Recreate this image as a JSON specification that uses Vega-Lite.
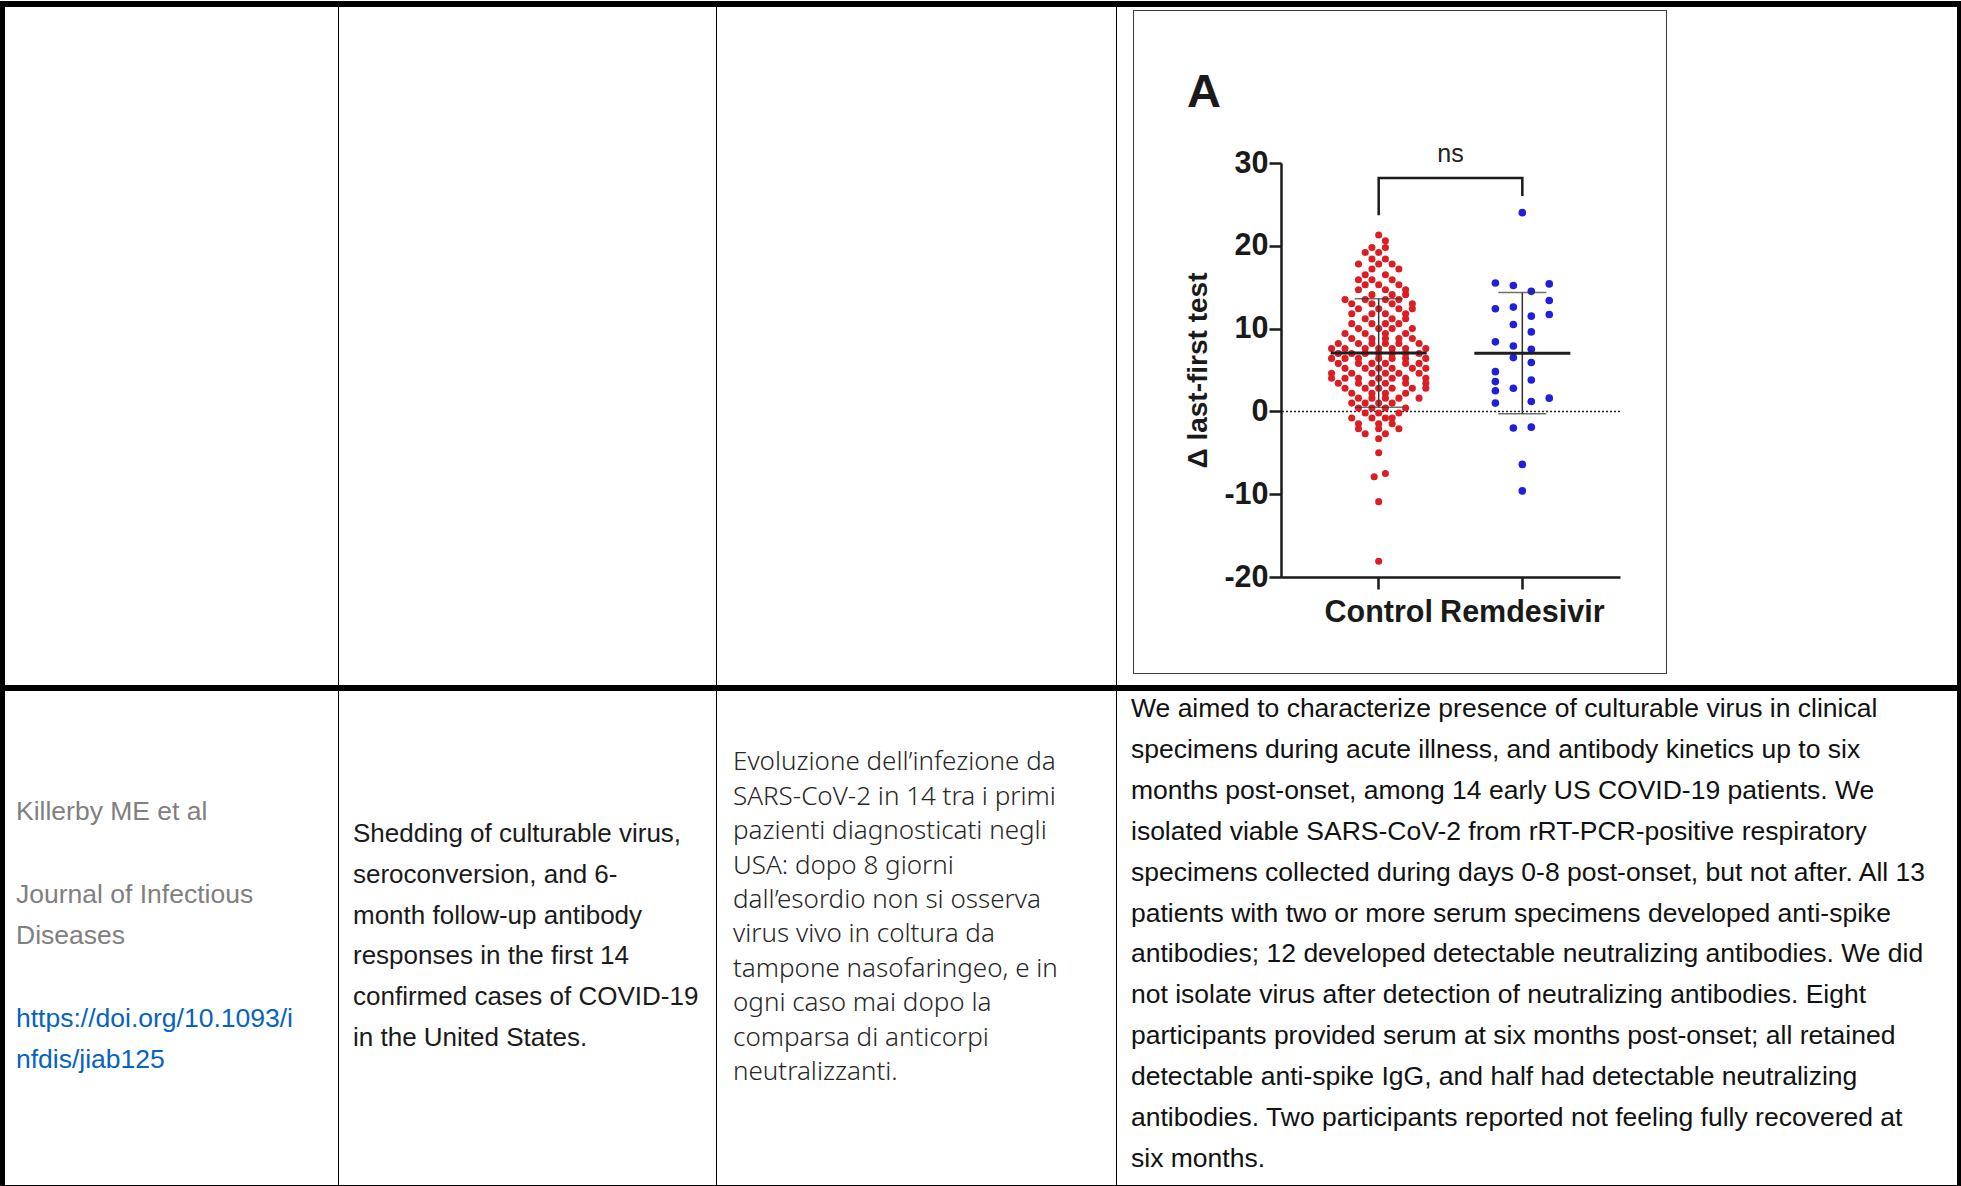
{
"$schema": "https://vega.github.io/schema/vega-lite/v6.json",
"background": "white",
"padding": 0,
"spacing": 0,
"config": {"view": {"stroke": null}, "concat": {"spacing": 0}},
"datasets": {
"none": [],
"pts": [
{"group":"Control","value":21.3,"lane":0},{"group":"Control","value":20.6,"lane":1.5},{"group":"Control","value":19.8,"lane":-1.5},{"group":"Control","value":19.8,"lane":1.5},{"group":"Control","value":19.2,"lane":-3},{"group":"Control","value":19.2,"lane":0},{"group":"Control","value":18.4,"lane":-1.5},{"group":"Control","value":18.4,"lane":1.5},{"group":"Control","value":17.8,"lane":-4.5},{"group":"Control","value":17.8,"lane":0},{"group":"Control","value":17.8,"lane":3},{"group":"Control","value":17.2,"lane":-1.5},{"group":"Control","value":17.2,"lane":4.5},{"group":"Control","value":16.5,"lane":-3},{"group":"Control","value":16.5,"lane":1.5},{"group":"Control","value":15.9,"lane":-4.5},{"group":"Control","value":15.9,"lane":-1.5},{"group":"Control","value":15.9,"lane":3},{"group":"Control","value":15.3,"lane":-3},{"group":"Control","value":15.3,"lane":0},{"group":"Control","value":15.3,"lane":4.5},{"group":"Control","value":14.7,"lane":-4.5},{"group":"Control","value":14.7,"lane":1.5},{"group":"Control","value":14.7,"lane":6},{"group":"Control","value":14.1,"lane":-1.5},{"group":"Control","value":14.1,"lane":3},{"group":"Control","value":14.1,"lane":6},{"group":"Control","value":13.5,"lane":-7.5},{"group":"Control","value":13.5,"lane":-3},{"group":"Control","value":13.5,"lane":1.5},{"group":"Control","value":13.5,"lane":4.5},{"group":"Control","value":13,"lane":-6},{"group":"Control","value":13,"lane":-1.5},{"group":"Control","value":13,"lane":3},{"group":"Control","value":13,"lane":7.5},{"group":"Control","value":12.4,"lane":-4.5},{"group":"Control","value":12.4,"lane":0},{"group":"Control","value":12.4,"lane":4.5},{"group":"Control","value":12.4,"lane":7.5},{"group":"Control","value":11.8,"lane":-6},{"group":"Control","value":11.8,"lane":-1.5},{"group":"Control","value":11.8,"lane":1.5},{"group":"Control","value":11.8,"lane":6},{"group":"Control","value":11.2,"lane":-3},{"group":"Control","value":11.2,"lane":3},{"group":"Control","value":11.2,"lane":6},{"group":"Control","value":10.6,"lane":-6},{"group":"Control","value":10.6,"lane":-1.5},{"group":"Control","value":10.6,"lane":1.5},{"group":"Control","value":10.6,"lane":4.5},{"group":"Control","value":10,"lane":-4.5},{"group":"Control","value":10,"lane":0},{"group":"Control","value":10,"lane":3},{"group":"Control","value":10,"lane":7.5},{"group":"Control","value":9.4,"lane":-7.5},{"group":"Control","value":9.4,"lane":-3},{"group":"Control","value":9.4,"lane":1.5},{"group":"Control","value":9.4,"lane":6},{"group":"Control","value":8.8,"lane":-6},{"group":"Control","value":8.8,"lane":-1.5},{"group":"Control","value":8.8,"lane":1.5},{"group":"Control","value":8.8,"lane":4.5},{"group":"Control","value":8.8,"lane":7.5},{"group":"Control","value":8.2,"lane":-9},{"group":"Control","value":8.2,"lane":-4.5},{"group":"Control","value":8.2,"lane":-1.5},{"group":"Control","value":8.2,"lane":1.5},{"group":"Control","value":8.2,"lane":4.5},{"group":"Control","value":8.2,"lane":9},{"group":"Control","value":7.6,"lane":-10.5},{"group":"Control","value":7.6,"lane":-7.5},{"group":"Control","value":7.6,"lane":-3},{"group":"Control","value":7.6,"lane":0},{"group":"Control","value":7.6,"lane":3},{"group":"Control","value":7.6,"lane":6},{"group":"Control","value":7.6,"lane":10.5},{"group":"Control","value":7,"lane":-9},{"group":"Control","value":7,"lane":-6},{"group":"Control","value":7,"lane":-3},{"group":"Control","value":7,"lane":0},{"group":"Control","value":7,"lane":3},{"group":"Control","value":7,"lane":6},{"group":"Control","value":7,"lane":9},{"group":"Control","value":6.4,"lane":-10.5},{"group":"Control","value":6.4,"lane":-7.5},{"group":"Control","value":6.4,"lane":-4.5},{"group":"Control","value":6.4,"lane":0},{"group":"Control","value":6.4,"lane":3},{"group":"Control","value":6.4,"lane":6},{"group":"Control","value":6.4,"lane":10.5},{"group":"Control","value":5.8,"lane":-9},{"group":"Control","value":5.8,"lane":-4.5},{"group":"Control","value":5.8,"lane":-1.5},{"group":"Control","value":5.8,"lane":1.5},{"group":"Control","value":5.8,"lane":6},{"group":"Control","value":5.8,"lane":9},{"group":"Control","value":5.2,"lane":-7.5},{"group":"Control","value":5.2,"lane":-3},{"group":"Control","value":5.2,"lane":0},{"group":"Control","value":5.2,"lane":3},{"group":"Control","value":5.2,"lane":7.5},{"group":"Control","value":5.2,"lane":10.5},{"group":"Control","value":4.6,"lane":-10.5},{"group":"Control","value":4.6,"lane":-6},{"group":"Control","value":4.6,"lane":-1.5},{"group":"Control","value":4.6,"lane":1.5},{"group":"Control","value":4.6,"lane":4.5},{"group":"Control","value":4.6,"lane":9},{"group":"Control","value":4,"lane":-10.5},{"group":"Control","value":4,"lane":-7.5},{"group":"Control","value":4,"lane":-4.5},{"group":"Control","value":4,"lane":0},{"group":"Control","value":4,"lane":3},{"group":"Control","value":4,"lane":6},{"group":"Control","value":4,"lane":10.5},{"group":"Control","value":3.4,"lane":-9},{"group":"Control","value":3.4,"lane":-4.5},{"group":"Control","value":3.4,"lane":-1.5},{"group":"Control","value":3.4,"lane":1.5},{"group":"Control","value":3.4,"lane":6},{"group":"Control","value":3.4,"lane":10.5},{"group":"Control","value":2.8,"lane":-7.5},{"group":"Control","value":2.8,"lane":-3},{"group":"Control","value":2.8,"lane":0},{"group":"Control","value":2.8,"lane":3},{"group":"Control","value":2.8,"lane":7.5},{"group":"Control","value":2.8,"lane":10.5},{"group":"Control","value":2.2,"lane":-6},{"group":"Control","value":2.2,"lane":-1.5},{"group":"Control","value":2.2,"lane":1.5},{"group":"Control","value":2.2,"lane":6},{"group":"Control","value":1.6,"lane":-4.5},{"group":"Control","value":1.6,"lane":-1.5},{"group":"Control","value":1.6,"lane":1.5},{"group":"Control","value":1.6,"lane":4.5},{"group":"Control","value":1.6,"lane":9},{"group":"Control","value":1,"lane":-6},{"group":"Control","value":1,"lane":-3},{"group":"Control","value":1,"lane":0},{"group":"Control","value":1,"lane":3},{"group":"Control","value":0.4,"lane":-4.5},{"group":"Control","value":0.4,"lane":-1.5},{"group":"Control","value":0.4,"lane":1.5},{"group":"Control","value":0.4,"lane":6},{"group":"Control","value":-0.2,"lane":-3},{"group":"Control","value":-0.2,"lane":0},{"group":"Control","value":-0.2,"lane":4.5},{"group":"Control","value":-0.8,"lane":-6},{"group":"Control","value":-0.8,"lane":-1.5},{"group":"Control","value":-0.8,"lane":1.5},{"group":"Control","value":-0.8,"lane":3},{"group":"Control","value":-1.5,"lane":-4.5},{"group":"Control","value":-1.5,"lane":0},{"group":"Control","value":-1.5,"lane":3},{"group":"Control","value":-2.1,"lane":-4.5},{"group":"Control","value":-2.1,"lane":0},{"group":"Control","value":-2.1,"lane":4.5},{"group":"Control","value":-2.7,"lane":-3},{"group":"Control","value":-2.7,"lane":1.5},{"group":"Control","value":-3.3,"lane":0},{"group":"Control","value":-5,"lane":0},{"group":"Control","value":-7.5,"lane":1.5},{"group":"Control","value":-7.9,"lane":-1},{"group":"Control","value":-10.9,"lane":0},{"group":"Control","value":-18.1,"lane":0},
{"group":"Remdesivir","value":24,"lane":0},{"group":"Remdesivir","value":15.5,"lane":-6},{"group":"Remdesivir","value":15.2,"lane":-2},{"group":"Remdesivir","value":14.5,"lane":2},{"group":"Remdesivir","value":15.4,"lane":6},{"group":"Remdesivir","value":13.4,"lane":6},{"group":"Remdesivir","value":12.4,"lane":-6},{"group":"Remdesivir","value":12.6,"lane":-2},{"group":"Remdesivir","value":11.5,"lane":2},{"group":"Remdesivir","value":11.7,"lane":6},{"group":"Remdesivir","value":10.5,"lane":-2},{"group":"Remdesivir","value":9.6,"lane":2},{"group":"Remdesivir","value":8.4,"lane":-6},{"group":"Remdesivir","value":7.9,"lane":-2},{"group":"Remdesivir","value":7.5,"lane":2},{"group":"Remdesivir","value":6.5,"lane":-2},{"group":"Remdesivir","value":5.9,"lane":2},{"group":"Remdesivir","value":4.8,"lane":-6},{"group":"Remdesivir","value":3.6,"lane":-6},{"group":"Remdesivir","value":2.5,"lane":-6},{"group":"Remdesivir","value":1,"lane":-6},{"group":"Remdesivir","value":2.8,"lane":-2},{"group":"Remdesivir","value":3.8,"lane":2},{"group":"Remdesivir","value":1.2,"lane":2},{"group":"Remdesivir","value":1.6,"lane":6},{"group":"Remdesivir","value":-2,"lane":-2},{"group":"Remdesivir","value":-1.9,"lane":2},{"group":"Remdesivir","value":-6.4,"lane":0},{"group":"Remdesivir","value":-9.6,"lane":0}
],
"bracket": [
{"group":"Control","value":23.7,"step":1},{"group":"Control","value":28.2,"step":2},{"group":"Remdesivir","value":28.2,"step":3},{"group":"Remdesivir","value":26.0,"step":4}
],
"ns": [{"group":"Control","value":31.1,"label":"ns"}],
"cells": [
{"cell":"c1","line":1,"text":"Killerby ME et al","kind":"plain"},
{"cell":"c1","line":3,"text":"Journal of Infectious","kind":"plain"},
{"cell":"c1","line":4,"text":"Diseases","kind":"plain"},
{"cell":"c1","line":6,"text":"https://doi.org/10.1093/i","kind":"link"},
{"cell":"c1","line":7,"text":"nfdis/jiab125","kind":"link"},
{"cell":"c2","line":1,"text":"Shedding of culturable virus,","kind":"plain"},
{"cell":"c2","line":2,"text":"seroconversion, and 6-","kind":"plain"},
{"cell":"c2","line":3,"text":"month follow-up antibody","kind":"plain"},
{"cell":"c2","line":4,"text":"responses in the first 14","kind":"plain"},
{"cell":"c2","line":5,"text":"confirmed cases of COVID-19","kind":"plain"},
{"cell":"c2","line":6,"text":"in the United States.","kind":"plain"},
{"cell":"c3","line":1,"text":"Evoluzione dell’infezione da","kind":"plain"},
{"cell":"c3","line":2,"text":"SARS-CoV-2 in 14 tra i primi","kind":"plain"},
{"cell":"c3","line":3,"text":"pazienti diagnosticati negli","kind":"plain"},
{"cell":"c3","line":4,"text":"USA: dopo 8 giorni","kind":"plain"},
{"cell":"c3","line":5,"text":"dall’esordio non si osserva","kind":"plain"},
{"cell":"c3","line":6,"text":"virus vivo in coltura da","kind":"plain"},
{"cell":"c3","line":7,"text":"tampone nasofaringeo, e in","kind":"plain"},
{"cell":"c3","line":8,"text":"ogni caso mai dopo la","kind":"plain"},
{"cell":"c3","line":9,"text":"comparsa di anticorpi","kind":"plain"},
{"cell":"c3","line":10,"text":"neutralizzanti.","kind":"plain"},
{"cell":"c4","line":1,"text":"We aimed to characterize presence of culturable virus in clinical","kind":"plain"},
{"cell":"c4","line":2,"text":"specimens during acute illness, and antibody kinetics up to six","kind":"plain"},
{"cell":"c4","line":3,"text":"months post-onset, among 14 early US COVID-19 patients. We","kind":"plain"},
{"cell":"c4","line":4,"text":"isolated viable SARS-CoV-2 from rRT-PCR-positive respiratory","kind":"plain"},
{"cell":"c4","line":5,"text":"specimens collected during days 0-8 post-onset, but not after. All 13","kind":"plain"},
{"cell":"c4","line":6,"text":"patients with two or more serum specimens developed anti-spike","kind":"plain"},
{"cell":"c4","line":7,"text":"antibodies; 12 developed detectable neutralizing antibodies. We did","kind":"plain"},
{"cell":"c4","line":8,"text":"not isolate virus after detection of neutralizing antibodies. Eight","kind":"plain"},
{"cell":"c4","line":9,"text":"participants provided serum at six months post-onset; all retained","kind":"plain"},
{"cell":"c4","line":10,"text":"detectable anti-spike IgG, and half had detectable neutralizing","kind":"plain"},
{"cell":"c4","line":11,"text":"antibodies. Two participants reported not feeling fully recovered at","kind":"plain"},
{"cell":"c4","line":12,"text":"six months.","kind":"plain"}
]
},
"vconcat": [
{"data":{"name":"none"},"mark":"point","width":1961,"height":1},
{"data":{"name":"none"},"mark":"point","width":1961,"height":6,"view":{"fill":"#000000","stroke":null}},
{"spacing":0,"hconcat":[
 {"data":{"name":"none"},"mark":"point","width":5,"height":678,"view":{"fill":"#000000","stroke":null}},
 {"data":{"name":"none"},"mark":"point","width":333,"height":678},
 {"data":{"name":"none"},"mark":"point","width":1,"height":678,"view":{"fill":"#000000","stroke":null}},
 {"data":{"name":"none"},"mark":"point","width":377,"height":678},
 {"data":{"name":"none"},"mark":"point","width":1,"height":678,"view":{"fill":"#000000","stroke":null}},
 {"data":{"name":"none"},"mark":"point","width":399,"height":678},
 {"data":{"name":"none"},"mark":"point","width":1,"height":678,"view":{"fill":"#000000","stroke":null}},
 {"spacing":0,"hconcat":[
  {"data":{"name":"none"},"mark":"point","width":16,"height":678},
  {"spacing":0,"vconcat":[
   {"data":{"name":"none"},"mark":"point","width":534,"height":3},
   {"data":{"name":"none"},"mark":"point","width":534,"height":1,"view":{"fill":"#3d3d3d","stroke":null}},
   {"spacing":0,"hconcat":[
    {"data":{"name":"none"},"mark":"point","width":1,"height":662,"view":{"fill":"#3d3d3d","stroke":null}},
    {"spacing":0,"vconcat":[
     {"data":{"name":"none"},"mark":"point","width":532,"height":57},
     {"spacing":0,"hconcat":[
      {"data":{"name":"none"},"mark":"point","width":50,"height":1},
      {
       "width":339,"height":414,
       "title":{"text":"A","anchor":"start","fontSize":47,"fontWeight":"bold","font":"Liberation Sans","color":"#1a1a1a","offset":-12,"baseline":"alphabetic","dx":2},
       "layer":[
        {"data":{"values":[{"value":0}]},
         "mark":{"type":"rule","strokeDash":[2,2],"color":"#222222","strokeWidth":1.5},
         "encoding":{"y":{"field":"value","type":"quantitative","title":"Δ last-first test","scale":{"domain":[-20,30],"nice":false,"zero":false},"axis":{"values":[-20,-10,0,10,20,30],"labelExpr":"'' + datum.value","grid":false,"labelFont":"Liberation Sans","labelFontSize":30.5,"labelFontWeight":"bold","labelColor":"#1a1a1a","labelPadding":1,"tickSize":12,"tickWidth":2.5,"tickColor":"#1a1a1a","domainColor":"#1a1a1a","domainWidth":2.5,"titleFont":"Liberation Sans","titleFontSize":28,"titleFontWeight":"bold","titleColor":"#1a1a1a","titlePadding":11}}}},
        {"data":{"name":"pts"},
         "mark":{"type":"circle","opacity":1},
         "encoding":{
          "x":{"field":"group","type":"nominal","title":null,"scale":{"domain":["Control","Remdesivir"],"paddingInner":0,"paddingOuter":0.18},"axis":{"bandPosition":0.5,"labelAngle":0,"labelFont":"Liberation Sans","labelFontSize":30.5,"labelFontWeight":"bold","labelColor":"#1a1a1a","labelPadding":8,"tickSize":12,"tickWidth":2.5,"tickColor":"#1a1a1a","domainColor":"#1a1a1a","domainWidth":2.5,"grid":false}},
          "xOffset":{"field":"lane","type":"quantitative","scale":{"domain":[-16,16]}},
          "y":{"field":"value","type":"quantitative","title":"Δ last-first test","scale":{"domain":[-20,30],"nice":false,"zero":false}},
          "color":{"field":"group","type":"nominal","legend":null,"scale":{"domain":["Control","Remdesivir"],"range":["#dc1e24","#1f1fdc"]}},
          "size":{"field":"group","type":"nominal","legend":null,"scale":{"domain":["Control","Remdesivir"],"range":[50,58]}}
         }},
        {"data":{"name":"pts"},
         "mark":{"type":"errorbar","extent":"stdev","color":"#333333","thickness":1.5,"ticks":{"size":48,"color":"#333333"},"rule":{"color":"#333333","strokeWidth":1.5}},
         "encoding":{
          "x":{"field":"group","type":"nominal","title":null},
          "y":{"field":"value","type":"quantitative","title":"Δ last-first test"}
         }},
        {"data":{"name":"pts"},
         "mark":{"type":"tick","color":"#1e1e1e","size":96,"thickness":3},
         "encoding":{
          "x":{"field":"group","type":"nominal","title":null},
          "y":{"aggregate":"mean","field":"value","type":"quantitative","title":"Δ last-first test"}
         }},
        {"data":{"name":"bracket"},
         "mark":{"type":"line","color":"#1a1a1a","strokeWidth":2.5},
         "encoding":{
          "x":{"field":"group","type":"nominal","title":null,"bandPosition":0.5},
          "y":{"field":"value","type":"quantitative","title":"Δ last-first test"},
          "order":{"field":"step","type":"quantitative"}
         }},
        {"data":{"name":"ns"},
         "mark":{"type":"text","fontSize":25,"font":"Liberation Sans","color":"#222222","baseline":"middle"},
         "encoding":{
          "x":{"field":"group","type":"nominal","title":null,"bandPosition":1},
          "y":{"field":"value","type":"quantitative","title":"Δ last-first test"},
          "text":{"field":"label"}
         }}
       ]
      }
     ]}
    ]},
    {"data":{"name":"none"},"mark":"point","width":1,"height":662,"view":{"fill":"#3d3d3d","stroke":null}}
   ]},
   {"data":{"name":"none"},"mark":"point","width":534,"height":1,"view":{"fill":"#3d3d3d","stroke":null}}
  ]},
  {"data":{"name":"none"},"mark":"point","width":290,"height":678}
 ]},
 {"data":{"name":"none"},"mark":"point","width":4,"height":678,"view":{"fill":"#000000","stroke":null}}
]},
{"data":{"name":"none"},"mark":"point","width":1961,"height":6,"view":{"fill":"#000000","stroke":null}},
{"spacing":0,"bounds":"flush","hconcat":[
 {"data":{"name":"none"},"mark":"point","width":5,"height":494,"view":{"fill":"#000000","stroke":null}},
 {"data":{"name":"cells"},"transform":[{"filter":"datum.cell === 'c1'"}],"width":333,"height":494,
  "encoding":{
   "x":{"field":"cell","type":"nominal","bandPosition":0,"axis":null,"scale":{"type":"band","paddingInner":0,"paddingOuter":0.03537}},
   "y":{"field":"line","type":"quantitative","axis":null,"scale":{"domain":[-1.93,10.031],"reverse":true,"nice":false,"zero":false}},
   "text":{"field":"text"}
  },
  "layer":[
   {"transform":[{"filter":"datum.kind === 'plain'"}],"mark":{"type":"text","align":"left","baseline":"middle","font":"Liberation Sans","fontSize":26.5,"color":"#808080"}},
   {"transform":[{"filter":"datum.kind === 'link'"}],"mark":{"type":"text","align":"left","baseline":"middle","font":"Liberation Sans","fontSize":26.5,"color":"#0563c1"}}
  ]},
 {"data":{"name":"none"},"mark":"point","width":1,"height":494,"view":{"fill":"#000000","stroke":null}},
 {"data":{"name":"cells"},"transform":[{"filter":"datum.cell === 'c2'"}],"width":377,"height":494,
  "mark":{"type":"text","align":"left","baseline":"middle","font":"Liberation Sans","fontSize":26,"color":"#1a1a1a"},
  "encoding":{
   "x":{"field":"cell","type":"nominal","bandPosition":0,"axis":null,"scale":{"type":"band","paddingInner":0,"paddingOuter":0.04011}},
   "y":{"field":"line","type":"quantitative","axis":null,"scale":{"domain":[-2.505,9.603],"reverse":true,"nice":false,"zero":false}},
   "text":{"field":"text"}
  }},
 {"data":{"name":"none"},"mark":"point","width":1,"height":494,"view":{"fill":"#000000","stroke":null}},
 {"data":{"name":"cells"},"transform":[{"filter":"datum.cell === 'c3'"}],"width":399,"height":494,
  "mark":{"type":"text","align":"left","baseline":"middle","font":"Noto Sans","fontWeight":300,"fontSize":26,"color":"#262626"},
  "encoding":{
   "x":{"field":"cell","type":"nominal","bandPosition":0,"axis":null,"scale":{"type":"band","paddingInner":0,"paddingOuter":0.0436}},
   "y":{"field":"line","type":"quantitative","axis":null,"scale":{"domain":[-1.078,13.282],"reverse":true,"nice":false,"zero":false}},
   "text":{"field":"text"}
  }},
 {"data":{"name":"none"},"mark":"point","width":1,"height":494,"view":{"fill":"#000000","stroke":null}},
 {"data":{"name":"cells"},"transform":[{"filter":"datum.cell === 'c4'"}],"width":840,"height":494,
  "mark":{"type":"text","align":"left","baseline":"middle","font":"Liberation Sans","fontSize":26.5,"color":"#111111"},
  "encoding":{
   "x":{"field":"cell","type":"nominal","bandPosition":0,"axis":null,"scale":{"type":"band","paddingInner":0,"paddingOuter":0.01724}},
   "y":{"field":"line","type":"quantitative","axis":null,"scale":{"domain":[0.56,12.638],"reverse":true,"nice":false,"zero":false}},
   "text":{"field":"text"}
  }},
 {"data":{"name":"none"},"mark":"point","width":4,"height":494,"view":{"fill":"#000000","stroke":null}}
]},
{"data":{"name":"none"},"mark":"point","width":1961,"height":1,"view":{"fill":"#000000","stroke":null}}
]
}
